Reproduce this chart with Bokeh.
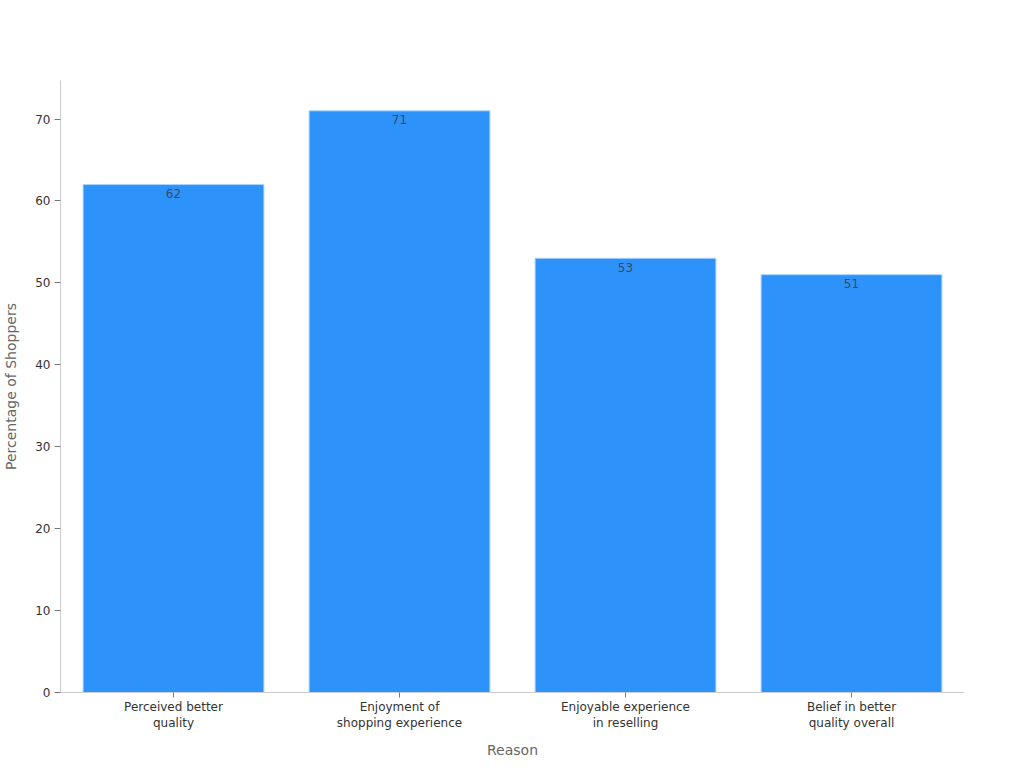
from bokeh.plotting import figure
from bokeh.models import ColumnDataSource, FactorRange, Range1d, LabelSet, Label
from bokeh.core.properties import value
from bokeh.embed import file_html
from bokeh.resources import INLINE

chart_title = "Top Reasons for Choosing Used Clothing"
reasons = ["Perceived better\nquality", "Enjoyment of\nshopping experience",
           "Enjoyable experience\nin reselling", "Belief in better\nquality overall"]
shoppers = [62, 71, 53, 51]
y_ticks = [0, 10, 20, 30, 40, 50, 60, 70]

FONT = "DejaVu Sans"
src = ColumnDataSource(dict(reason=reasons, value=shoppers, label=[str(v) for v in shoppers]))

p = figure(frame_width=904, frame_height=612, output_backend="svg", toolbar_location=None,
           x_range=FactorRange(*reasons, range_padding=0, factor_padding=0),
           y_range=Range1d(0, 74.7))
p.min_border_left = 52
p.min_border_right = 51
p.min_border_top = 80
p.min_border_bottom = 60
p.outline_line_color = None
p.background_fill_color = "white"
p.border_fill_color = "white"
p.xgrid.visible = False
p.ygrid.visible = False

p.vbar(x="reason", top="value", width=0.8, source=src,
       fill_color="#2e92fb", line_color="#a9d3fd", line_width=1)

p.add_layout(LabelSet(x="reason", y="value", text="label", source=src,
                      y_offset=-4.5, text_align="center", text_baseline="top",
                      text_font=value(FONT), text_font_size="12px", text_color="#3a4a5c"))

for ax in (p.xaxis[0], p.yaxis[0]):
    ax.axis_line_color = "#cccccc"
    ax.axis_line_width = 1
    ax.major_tick_line_color = "#777777"
    ax.major_tick_line_width = 1
    ax.minor_tick_line_color = None
    ax.major_label_text_font = FONT
    ax.major_label_text_font_size = "12px"
    ax.major_label_text_color = "#333333"
    ax.axis_label_text_font = FONT
    ax.axis_label_text_font_size = "14px"
    ax.axis_label_text_font_style = "normal"
    ax.axis_label_text_color = "#666666"

p.xaxis[0].axis_label = "Reason"
p.yaxis[0].axis_label = "Percentage of Shoppers"
p.yaxis[0].ticker = y_ticks
p.yaxis[0].major_tick_out = 6
p.yaxis[0].major_tick_in = 0
p.xaxis[0].major_tick_out = 5
p.xaxis[0].major_tick_in = 0
p.xaxis[0].major_label_standoff = 2
p.xaxis[0].axis_label_standoff = 9
p.yaxis[0].major_label_standoff = 4
p.yaxis[0].axis_label_standoff = 13

p.add_layout(Label(text=chart_title, x=504, y=80.43, x_units="canvas", y_units="data",
                   text_align="center", text_baseline="middle",
                   text_font=FONT, text_font_size="20px", text_color="#333333"))

open("out.html", "w").write(file_html(p, INLINE))
